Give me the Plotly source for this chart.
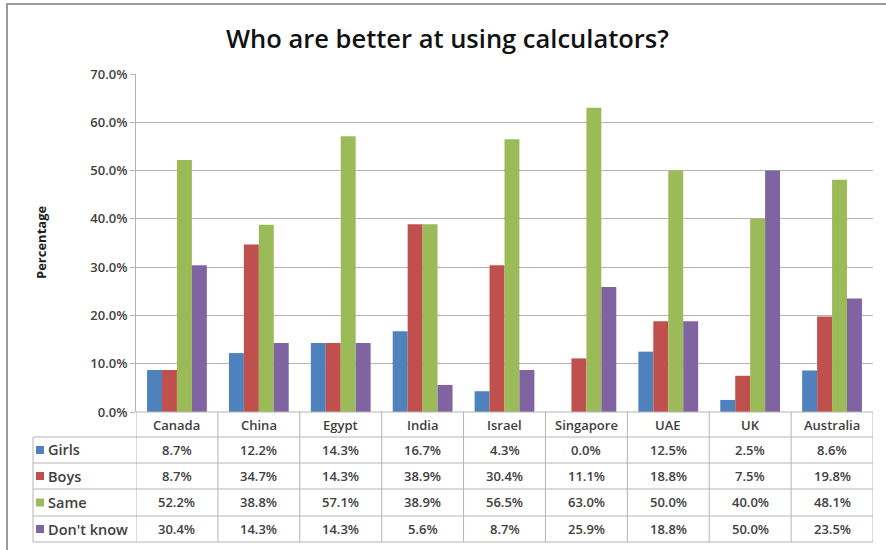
import plotly.graph_objects as go

# ---- data ----
countries = ["Canada", "China", "Egypt", "India", "Israel", "Singapore", "UAE", "UK", "Australia"]
series_names = ["Girls", "Boys", "Same", "Don't know"]
girls = [8.7, 12.2, 14.3, 16.7, 4.3, 0.0, 12.5, 2.5, 8.6]
boys = [8.7, 34.7, 14.3, 38.9, 30.4, 11.1, 18.8, 7.5, 19.8]
same = [52.2, 38.8, 57.1, 38.9, 56.5, 63.0, 50.0, 40.0, 48.1]
dont_know = [30.4, 14.3, 14.3, 5.6, 8.7, 25.9, 18.8, 50.0, 23.5]
y_ticks = [0, 10, 20, 30, 40, 50, 60, 70]

series_values = [girls, boys, same, dont_know]
colors = ["#4F81BD", "#C0504D", "#9BBB59", "#8064A2"]

W, H = 886, 550
PX0, PX1, PY0, PY1 = 136, 873, 74, 412  # plot area in pixels


def px(x):
    return (x - PX0) / (PX1 - PX0)


def py(y):
    return (PY1 - y) / (PY1 - PY0)


FONT = "Open Sans, Noto Sans, sans-serif"
GRID = "#B4B4B4"
TEXT = "#404040"

fig = go.Figure()
for name, vals, col in zip(series_names, series_values, colors):
    fig.add_trace(go.Bar(
        x=countries, y=[v / 100 for v in vals], name=name,
        marker=dict(color=col, line=dict(width=0)),
        hovertemplate="%{x}: %{y:.1%}<extra>" + name + "</extra>",
    ))

shapes = []
annotations = []

# table rows (pixel boundaries below the plot area)
row_edges = [412, 437, 463, 489, 516, 542]
left_px = 33
line = dict(color=GRID, width=1)

# horizontal table lines
shapes.append(dict(type="line", xref="paper", yref="paper", x0=0, x1=1,
                   y0=py(row_edges[0]), y1=py(row_edges[0]), line=line))
for e in row_edges[1:]:
    shapes.append(dict(type="line", xref="paper", yref="paper", x0=px(left_px), x1=1,
                       y0=py(e), y1=py(e), line=line))

# vertical table lines at category boundaries
n = len(countries)
for i in range(n + 1):
    shapes.append(dict(type="line", xref="x", yref="paper", x0=i - 0.5, x1=i - 0.5,
                       y0=py(row_edges[0]), y1=py(row_edges[-1]), line=line))
shapes.append(dict(type="line", xref="paper", yref="paper", x0=px(left_px), x1=px(left_px),
                   y0=py(row_edges[1]), y1=py(row_edges[-1]), line=line))

cell_font = dict(family=FONT, size=13, color=TEXT, weight=600)

# header row: category names
hdr_y = py((row_edges[0] + row_edges[1]) / 2)
for c in countries:
    annotations.append(dict(x=c, y=hdr_y, xref="x", yref="paper", text=c, showarrow=False,
                            font=cell_font, xanchor="center", yanchor="middle"))

# value rows with legend keys
for r, (name, vals, col) in enumerate(zip(series_names, series_values, colors)):
    top, bot = row_edges[r + 1], row_edges[r + 2]
    cy = (top + bot) / 2
    shapes.append(dict(type="rect", xref="paper", yref="paper",
                       x0=px(36), x1=px(44), y0=py(cy - 4), y1=py(cy + 4),
                       fillcolor=col, line=dict(width=0)))
    annotations.append(dict(x=px(46), y=py(cy), xref="paper", yref="paper", text=name,
                            showarrow=False, xanchor="left", yanchor="middle",
                            font=dict(family=FONT, size=14.5, color=TEXT, weight=600)))
    for c, v in zip(countries, vals):
        annotations.append(dict(x=c, y=py(cy), xref="x", yref="paper", text=f"{v:.1f}%",
                                showarrow=False, xanchor="center", yanchor="middle",
                                font=cell_font))

# y-axis title
annotations.append(dict(x=px(41), y=py(243), xref="paper", yref="paper", text="<b>Percentage</b>",
                        textangle=-90, showarrow=False, xanchor="center", yanchor="middle",
                        font=dict(family=FONT, size=13, color="#202020")))

# chart title
annotations.append(dict(x=px(447), y=py(38), xref="paper", yref="paper",
                        text="Who are better at using calculators?", showarrow=False,
                        xanchor="center", yanchor="middle",
                        font=dict(family=FONT, size=25.5, color="#111111", weight=600)))

# outer frame: one open polyline along the left and top edges
fx, fy_top, fy_bot = px(7), py(4), py(H)
shapes.append(dict(type="path", xref="paper", yref="paper",
                   path=f"M {fx},{fy_bot} L {fx},{fy_top} L {px(W)},{fy_top}",
                   line=dict(color="#9A9A9A", width=2), fillcolor="rgba(0,0,0,0)"))

fig.update_layout(
    width=W, height=H,
    margin=dict(l=PX0, r=W - PX1, t=PY0, b=H - PY1, autoexpand=False),
    paper_bgcolor="white", plot_bgcolor="white",
    barmode="group", bargap=0.27, bargroupgap=0,
    showlegend=False,
    shapes=shapes, annotations=annotations,
    xaxis=dict(type="category", range=[-0.5, n - 0.5], showticklabels=False,
               showgrid=False, zeroline=False, showline=False, fixedrange=True),
    yaxis=dict(range=[0, 0.7], tickvals=[t / 100 for t in y_ticks],
               ticktext=[f"{t:.1f}%" for t in y_ticks],
               tickfont=dict(family=FONT, size=13, color=TEXT, weight=600),
               showgrid=True, gridcolor=GRID, gridwidth=1.3,
               showline=True, linecolor=GRID, linewidth=1,
               ticks="outside", ticklen=5, tickcolor=GRID,
               zeroline=False, fixedrange=True),
)

fig.write_html("out.html", config={"displayModeBar": False})
